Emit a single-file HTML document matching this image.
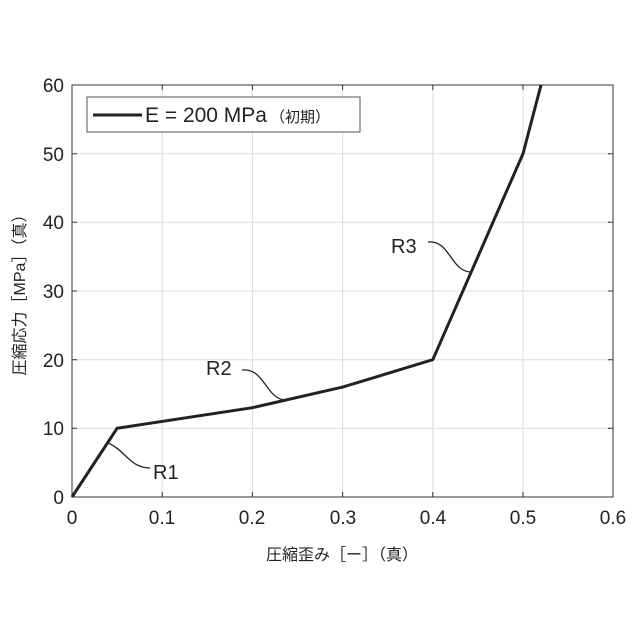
<!DOCTYPE html>
<html><head><meta charset="utf-8"><style>body{margin:0;background:#fff}svg{display:block}</style></head><body>
<svg width="640" height="640" xmlns="http://www.w3.org/2000/svg" font-family="Liberation Sans, Noto Sans CJK JP, sans-serif">
<rect width="640" height="640" fill="#fff"/>
<g stroke="#dcdcdc" stroke-width="1">
<line x1="162.2" y1="85" x2="162.2" y2="497"/><line x1="252.4" y1="85" x2="252.4" y2="497"/><line x1="342.6" y1="85" x2="342.6" y2="497"/><line x1="432.8" y1="85" x2="432.8" y2="497"/><line x1="523" y1="85" x2="523" y2="497"/>
<line x1="72" y1="428.3" x2="614" y2="428.3"/><line x1="72" y1="359.7" x2="614" y2="359.7"/><line x1="72" y1="291" x2="614" y2="291"/><line x1="72" y1="222.3" x2="614" y2="222.3"/><line x1="72" y1="153.7" x2="614" y2="153.7"/>
</g>
<g stroke="#333" stroke-width="1">
<rect x="72" y="85" width="541" height="412" fill="none"/>
<path d="M162.2 497v-5M252.4 497v-5M342.6 497v-5M432.8 497v-5M523 497v-5M162.2 85v5M252.4 85v5M342.6 85v5M432.8 85v5M523 85v5M72 428.3h5M72 359.7h5M72 291h5M72 222.3h5M72 153.7h5M613 428.3h-5M613 359.7h-5M613 291h-5M613 222.3h-5M613 153.7h-5"/>
</g>
<g font-size="19" fill="#222" text-anchor="middle">
<text x="72" y="524">0</text><text x="162" y="524">0.1</text><text x="252" y="524">0.2</text><text x="343" y="524">0.3</text><text x="433" y="524">0.4</text><text x="523" y="524">0.5</text><text x="613" y="524">0.6</text>
</g>
<g font-size="19" fill="#222" text-anchor="end">
<text x="64" y="504">0</text><text x="64" y="435">10</text><text x="64" y="367">20</text><text x="64" y="298">30</text><text x="64" y="229">40</text><text x="64" y="161">50</text><text x="64" y="92">60</text>
</g>
<text x="342" y="560" font-size="16" text-anchor="middle" fill="#222">圧縮歪み［ー］（真）</text>
<text transform="translate(25 291) rotate(-90)" font-size="16" text-anchor="middle" fill="#222">圧縮応力［MPa］（真）</text>
<polyline points="72,497 117.1,428.3 252.4,407.7 342.6,387.1 432.8,359.7 523,153.7 541,85" fill="none" stroke="#222" stroke-width="3"/>
<g fill="none" stroke="#222" stroke-width="1.3">
<path d="M108 443 C125 450,130 468,150 468"/>
<path d="M242 370 C265 368,265 398,285 400"/>
<path d="M428 242 C450 240,450 270,470 272"/>
</g>
<g font-size="20" fill="#222">
<text x="153" y="479">R1</text><text x="206" y="375">R2</text><text x="391" y="253">R3</text>
</g>
<rect x="87" y="97" width="273" height="35" fill="#fff" stroke="#555" stroke-width="1"/>
<line x1="93" y1="115" x2="142" y2="115" stroke="#222" stroke-width="3"/>
<text x="145" y="122" font-size="21" fill="#222">E = 200 MPa</text>
<text x="270" y="122" font-size="15" fill="#222">（初期）</text>
</svg>
</body></html>
